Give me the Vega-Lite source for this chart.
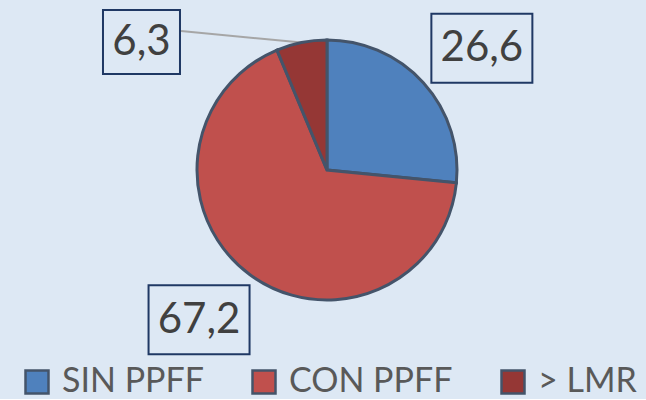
{
  "$schema": "https://vega.github.io/schema/vega-lite/v6.json",
  "width": 638,
  "height": 340,
  "padding": {"left": 8, "right": 0, "top": 0, "bottom": 0},
  "background": "#DDE8F4",
  "config": {"view": {"stroke": null}},
  "data": {
    "values": [
      {"category": "SIN PPFF", "value": 26.6, "order": 1},
      {"category": "CON PPFF", "value": 67.2, "order": 2},
      {"category": "> LMR", "value": 6.3, "order": 3}
    ]
  },
  "transform": [
    {"stack": "value", "groupby": [], "sort": [{"field": "order"}], "as": ["v0", "v1"]},
    {"joinaggregate": [{"op": "sum", "field": "value", "as": "total"}]},
    {"calculate": "PI * (datum.v0 + datum.v1) / datum.total", "as": "mid"},
    {"calculate": "datum.category === '> LMR' ? -1.427 : 1.515 * sin(datum.mid + 0.07)", "as": "lx"},
    {"calculate": "datum.category === '> LMR' ? 0.985 : 1.515 * cos(datum.mid + 0.07)", "as": "ly"},
    {"calculate": "sin(datum.mid)", "as": "ex"},
    {"calculate": "cos(datum.mid)", "as": "ey"},
    {"calculate": "datum.lx + 0.304", "as": "sx"},
    {"calculate": "datum.ly + 0.084", "as": "sy"},
    {"calculate": "replace(format(datum.value, '.1f'), '.', ',')", "as": "label"}
  ],
  "layer": [
    {
      "transform": [{"filter": "datum.category === '> LMR'"}],
      "mark": {"type": "rule", "color": "#A6A6A6", "strokeWidth": 2},
      "encoding": {
        "x": {"field": "sx", "type": "quantitative", "scale": {"domain": [-2.4538, 2.4538]}, "axis": null},
        "y": {"field": "sy", "type": "quantitative", "scale": {"domain": [-1.3077, 1.3077]}, "axis": null},
        "x2": {"field": "ex"},
        "y2": {"field": "ey"}
      }
    },
    {
      "mark": {"type": "arc", "outerRadius": 130, "stroke": "#44546A", "strokeWidth": 3},
      "encoding": {
        "theta": {"field": "value", "type": "quantitative", "stack": true},
        "order": {"field": "order", "type": "quantitative"},
        "color": {
          "field": "category",
          "type": "nominal",
          "scale": {"domain": ["SIN PPFF", "CON PPFF", "> LMR"], "range": ["#4F81BD", "#C0504D", "#953735"]},
          "legend": {
            "orient": "none",
            "legendX": 12,
            "legendY": 365,
            "direction": "horizontal",
            "title": null,
            "symbolType": "square",
            "symbolSize": 529,
            "symbolStrokeColor": "#44546A",
            "symbolStrokeWidth": 2.5,
            "symbolOpacity": 1,
            "labelFont": "Lato",
            "labelFontSize": 34,
            "labelColor": "#595959",
            "labelOffset": 8,
            "labelLimit": 0,
            "columnPadding": 43
          }
        }
      }
    },
    {
      "mark": {"type": "point", "filled": false, "color": "#1F3864", "strokeWidth": 2, "opacity": 1},
      "encoding": {
        "x": {"field": "lx", "type": "quantitative", "scale": {"domain": [-2.4538, 2.4538]}, "axis": null},
        "y": {"field": "ly", "type": "quantitative", "scale": {"domain": [-1.3077, 1.3077]}, "axis": null},
        "shape": {
          "condition": {"test": "datum.category === '> LMR'", "value": "M-1,-0.831H1V0.831H-1Z"},
          "value": "M-1,-0.683H1V0.683H-1Z"
        },
        "size": {
          "condition": {"test": "datum.category === '> LMR'", "value": 5929},
          "value": 10201
        }
      }
    },
    {
      "mark": {"type": "text", "font": "Lato", "fontSize": 42, "color": "#404040", "align": "center", "baseline": "middle"},
      "encoding": {
        "x": {"field": "lx", "type": "quantitative", "scale": {"domain": [-2.4538, 2.4538]}, "axis": null},
        "y": {"field": "ly", "type": "quantitative", "scale": {"domain": [-1.3077, 1.3077]}, "axis": null},
        "text": {"field": "label"}
      }
    }
  ]
}
